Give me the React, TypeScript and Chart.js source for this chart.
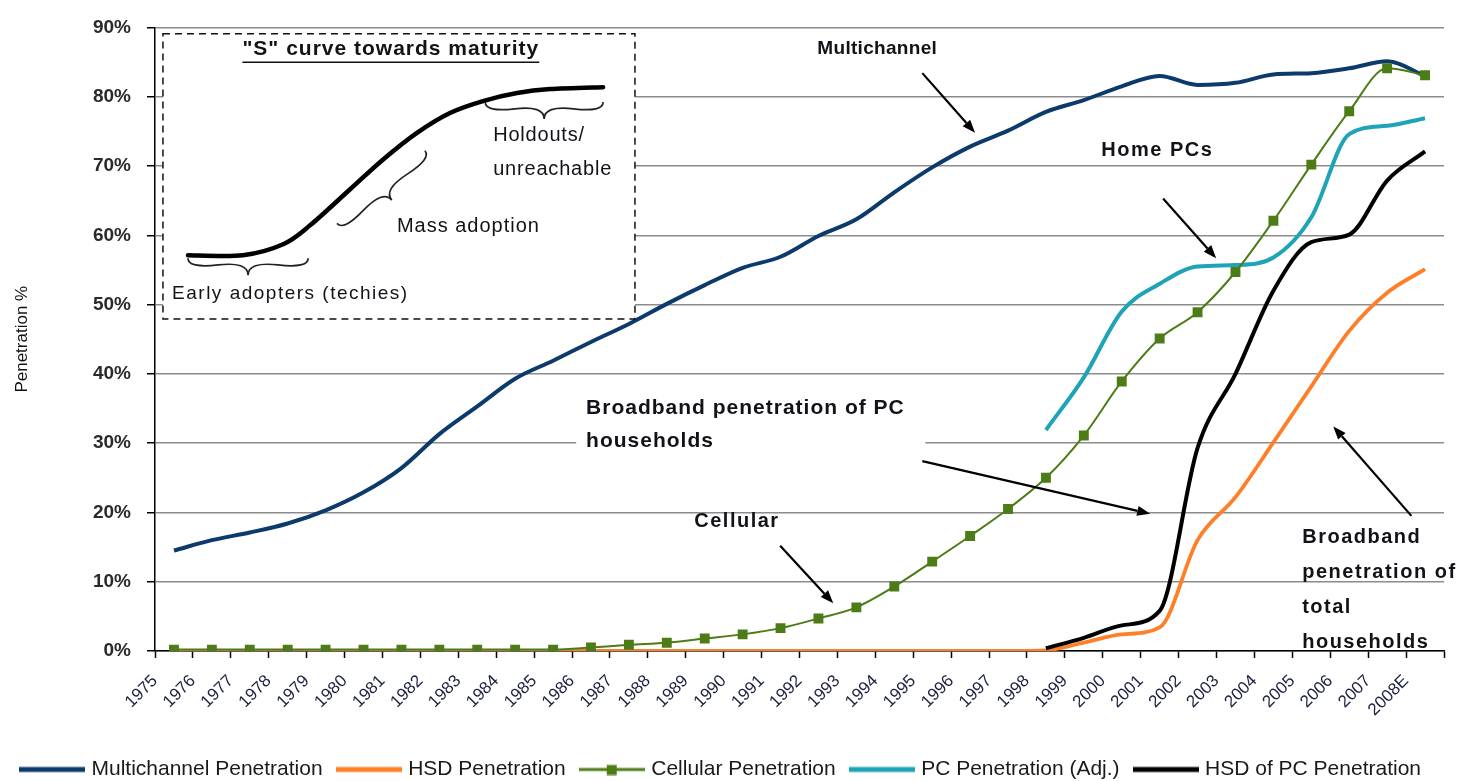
import React, { useEffect, useRef } from 'react';
import { Chart, registerables } from 'chart.js';

Chart.register(...registerables);

// ---------------- data ----------------
const years = [
  '1975', '1976', '1977', '1978', '1979', '1980', '1981', '1982', '1983', '1984',
  '1985', '1986', '1987', '1988', '1989', '1990', '1991', '1992', '1993', '1994',
  '1995', '1996', '1997', '1998', '1999', '2000', '2001', '2002', '2003', '2004',
  '2005', '2006', '2007', '2008E',
];

const multichannel = [
  14.5, 16.0, 17.1, 18.4, 20.3, 22.9, 26.4, 31.3, 35.3, 39.3,
  41.9, 44.6, 47.2, 50.1, 52.8, 55.3, 56.9, 59.9, 62.3, 66.2,
  69.8, 72.8, 75.1, 77.8, 79.5, 81.5, 83.0, 81.7, 82.0, 83.2,
  83.4, 84.1, 85.1, 83.0,
];

const hsd = [
  0, 0, 0, 0, 0, 0, 0, 0, 0, 0,
  0, 0, 0, 0, 0, 0, 0, 0, 0, 0,
  0, 0, 0, 0.1, 1.2, 2.4, 3.4, 16.0, 22.2, 30.1,
  38.2, 46.2, 51.7, 55.1,
];

const cellular = [
  0.2, 0.2, 0.2, 0.2, 0.2, 0.2, 0.2, 0.2, 0.2, 0.2,
  0.2, 0.5, 0.9, 1.2, 1.8, 2.4, 3.3, 4.7, 6.3, 9.3,
  12.9, 16.6, 20.5, 25.0, 31.1, 38.9, 45.1, 48.9, 54.7, 62.1,
  70.2, 77.9, 84.1, 83.1,
];

const pcPenetration = [
  null, null, null, null, null, null, null, null, null, null,
  null, null, null, null, null, null, null, null, null, null,
  null, null, null, 31.9, 39.5, 49.0, 53.0, 55.5, 55.7, 56.8,
  62.6, 74.6, 75.8, 76.9,
];

const hsdOfPc = [
  null, null, null, null, null, null, null, null, null, null,
  null, null, null, null, null, null, null, null, null, null,
  null, null, null, 0.4, 1.9, 3.7, 5.8, 29.3, 40.0, 52.0,
  59.0, 60.1, 67.9, 72.1,
];

const seriesLabels = [
  'Multichannel Penetration',
  'HSD Penetration',
  'Cellular Penetration',
  'PC Penetration (Adj.)',
  'HSD of PC Penetration',
];

const yMin = 0;
const yMax = 90;
const yStep = 10;

// ---------------- styles ----------------
const FONT = '"Liberation Sans", Arial, Helvetica, sans-serif';
const COLORS = {
  multichannel: '#0c3a6b',
  hsd: '#ff7f27',
  cellular: '#4d7c17',
  pc: '#1fa3b6',
  hsdPc: '#000000',
};

// annotation positions in data coordinates [category index, value %]
const NOTES = {
  multichannelText: [18.55, 86.9],
  multichannelArrow: [[19.74, 83.4], [21.13, 74.8]],
  homeText: [25.94, 72.3],
  homeArrow: [[26.09, 65.3], [27.49, 56.7]],
  pcHhLines: ['Broadband penetration of PC', 'households'],
  pcHhAt: [10.87, 35.0],
  pcHhBox: [[10.61, 38.0], [19.82, 28.0]],
  pcHhArrow: [[19.74, 27.4], [25.75, 19.8]],
  cellText: [14.85, 18.66],
  cellArrow: [[15.99, 15.2], [17.39, 6.9]],
  totalLines: ['Broadband', 'penetration of', 'total', 'households'],
  totalAt: [29.76, 16.4],
  totalArrow: [[32.64, 19.5], [30.58, 32.4]],
  insetBox: [[-0.29, 89.1], [12.16, 47.9]],
  insetTitle: [5.72, 86.84],
  insetCurve: [
    [0.37, 57.13], [1.82, 57.13], [2.88, 58.71], [3.59, 61.43], [4.64, 66.6],
    [5.51, 70.91], [6.41, 74.78], [7.28, 77.65], [8.15, 79.37], [9.05, 80.52],
    [9.92, 81.1], [11.32, 81.38],
  ],
  braceEarly: [[0.37, 56.7], [3.54, 56.7]],
  braceMass: [[4.3, 61.72], [6.62, 72.2]],
  braceHold: [[8.21, 79.23], [11.32, 79.23]],
  earlyText: [-0.05, 51.53],
  massText: [5.88, 61.29],
  holdText: [8.42, 74.35],
  holdText2: [8.42, 69.47],
};

function makeIcon(color: string, marker: boolean) {
  const c = document.createElement('canvas');
  c.width = 66;
  c.height = 12;
  const ctx = c.getContext('2d')!;
  ctx.strokeStyle = color;
  ctx.lineWidth = marker ? 3 : 5;
  ctx.beginPath();
  ctx.moveTo(0, 6);
  ctx.lineTo(66, 6);
  ctx.stroke();
  if (marker) {
    ctx.fillStyle = color;
    ctx.fillRect(28, 1.5, 10, 10);
  }
  return c;
}

function arrow(ctx: CanvasRenderingContext2D, x1: number, y1: number, x2: number, y2: number) {
  ctx.save();
  ctx.strokeStyle = '#000';
  ctx.fillStyle = '#000';
  ctx.lineWidth = 2.2;
  const a = Math.atan2(y2 - y1, x2 - x1);
  const hl = 13;
  const hw = 5;
  const bx = x2 - hl * Math.cos(a);
  const by = y2 - hl * Math.sin(a);
  ctx.beginPath();
  ctx.moveTo(x1, y1);
  ctx.lineTo(bx, by);
  ctx.stroke();
  ctx.beginPath();
  ctx.moveTo(x2, y2);
  ctx.lineTo(bx + hw * Math.sin(a), by - hw * Math.cos(a));
  ctx.lineTo(bx - hw * Math.sin(a), by + hw * Math.cos(a));
  ctx.closePath();
  ctx.fill();
  ctx.restore();
}

function brace(ctx: CanvasRenderingContext2D, x1: number, y1: number, x2: number, y2: number, w: number) {
  const q = 0.6;
  let dx = x1 - x2;
  let dy = y1 - y2;
  const len = Math.sqrt(dx * dx + dy * dy);
  dx /= len;
  dy /= len;
  const qx1 = x1 + q * w * dy, qy1 = y1 - q * w * dx;
  const qx2 = x1 - 0.25 * len * dx + (1 - q) * w * dy, qy2 = y1 - 0.25 * len * dy - (1 - q) * w * dx;
  const tx1 = x1 - 0.5 * len * dx + w * dy, ty1 = y1 - 0.5 * len * dy - w * dx;
  const qx3 = x2 + q * w * dy, qy3 = y2 - q * w * dx;
  const qx4 = x1 - 0.75 * len * dx + (1 - q) * w * dy, qy4 = y1 - 0.75 * len * dy - (1 - q) * w * dx;
  ctx.beginPath();
  ctx.moveTo(x1, y1);
  ctx.quadraticCurveTo(qx1, qy1, qx2, qy2);
  ctx.quadraticCurveTo(2 * qx2 - qx1, 2 * qy2 - qy1, tx1, ty1);
  ctx.moveTo(x2, y2);
  ctx.quadraticCurveTo(qx3, qy3, qx4, qy4);
  ctx.quadraticCurveTo(2 * qx4 - qx3, 2 * qy4 - qy3, tx1, ty1);
  ctx.stroke();
}

function text(ctx: CanvasRenderingContext2D, s: string, x: number, y: number, font: string, align: CanvasTextAlign, spacing = '0px') {
  ctx.save();
  ctx.font = font;
  (ctx as any).letterSpacing = spacing;
  ctx.fillStyle = '#111318';
  ctx.textAlign = align;
  ctx.textBaseline = 'middle';
  ctx.fillText(s, x, y);
  ctx.restore();
}

const annotationPlugin = {
  id: 'notes',
  beforeDatasetsDraw(chart: any) {
    const { ctx } = chart;
    const X = (i: number) => chart.scales.x.getPixelForValue(i);
    const Y = (v: number) => chart.scales.y.getPixelForValue(v);
    ctx.save();
    ctx.fillStyle = '#fff';
    const b = NOTES.insetBox;
    ctx.fillRect(X(b[0][0]), Y(b[0][1]), X(b[1][0]) - X(b[0][0]), Y(b[1][1]) - Y(b[0][1]));
    const h = NOTES.pcHhBox;
    ctx.fillRect(X(h[0][0]), Y(h[0][1]), X(h[1][0]) - X(h[0][0]), Y(h[1][1]) - Y(h[0][1]));
    ctx.restore();
  },
  afterDatasetsDraw(chart: any) {
    const { ctx } = chart;
    const X = (i: number) => chart.scales.x.getPixelForValue(i);
    const Y = (v: number) => chart.scales.y.getPixelForValue(v);
    const b19 = `bold 19px ${FONT}`;
    const b20 = `bold 20px ${FONT}`;
    const b21 = `bold 21px ${FONT}`;
    const reg = `19px ${FONT}`;
    const reg20 = `20px ${FONT}`;

    // main annotations
    text(ctx, 'Multichannel', X(NOTES.multichannelText[0]), Y(NOTES.multichannelText[1]), b19, 'center', '0.3px');
    let a = NOTES.multichannelArrow;
    arrow(ctx, X(a[0][0]), Y(a[0][1]), X(a[1][0]), Y(a[1][1]));

    text(ctx, 'Home PCs', X(NOTES.homeText[0]), Y(NOTES.homeText[1]), b20, 'center', '1.5px');
    a = NOTES.homeArrow;
    arrow(ctx, X(a[0][0]), Y(a[0][1]), X(a[1][0]), Y(a[1][1]));

    NOTES.pcHhLines.forEach((s, k) => {
      text(ctx, s, X(NOTES.pcHhAt[0]), Y(NOTES.pcHhAt[1]) + k * 33, b21, 'left', '1px');
    });
    a = NOTES.pcHhArrow;
    arrow(ctx, X(a[0][0]), Y(a[0][1]), X(a[1][0]), Y(a[1][1]));

    text(ctx, 'Cellular', X(NOTES.cellText[0]), Y(NOTES.cellText[1]), b20, 'center', '1.5px');
    a = NOTES.cellArrow;
    arrow(ctx, X(a[0][0]), Y(a[0][1]), X(a[1][0]), Y(a[1][1]));

    NOTES.totalLines.forEach((s, k) => {
      text(ctx, s, X(NOTES.totalAt[0]), Y(NOTES.totalAt[1]) + k * 35, b20, 'left', '1.5px');
    });
    a = NOTES.totalArrow;
    arrow(ctx, X(a[0][0]), Y(a[0][1]), X(a[1][0]), Y(a[1][1]));

    // inset
    const b = NOTES.insetBox;
    ctx.save();
    ctx.strokeStyle = '#111';
    ctx.lineWidth = 1.5;
    ctx.setLineDash([7, 5]);
    ctx.strokeRect(X(b[0][0]), Y(b[0][1]), X(b[1][0]) - X(b[0][0]), Y(b[1][1]) - Y(b[0][1]));
    ctx.restore();

    const tx = X(NOTES.insetTitle[0]);
    const ty = Y(NOTES.insetTitle[1]);
    const title = '"S" curve towards maturity';
    text(ctx, title, tx, ty, b21, 'center', '1px');
    ctx.save();
    ctx.font = b21;
    (ctx as any).letterSpacing = '1px';
    const tw = ctx.measureText(title).width;
    ctx.strokeStyle = '#111';
    ctx.lineWidth = 1.5;
    ctx.beginPath();
    ctx.moveTo(tx - tw / 2, ty + 13);
    ctx.lineTo(tx + tw / 2, ty + 13);
    ctx.stroke();
    ctx.restore();

    // S curve (Catmull-Rom)
    const pts = NOTES.insetCurve.map((p) => [X(p[0]), Y(p[1])]);
    ctx.save();
    ctx.strokeStyle = '#000';
    ctx.lineWidth = 4.5;
    ctx.lineCap = 'round';
    ctx.beginPath();
    ctx.moveTo(pts[0][0], pts[0][1]);
    for (let i = 0; i < pts.length - 1; i++) {
      const p0 = pts[Math.max(0, i - 1)];
      const p1 = pts[i];
      const p2 = pts[i + 1];
      const p3 = pts[Math.min(pts.length - 1, i + 2)];
      ctx.bezierCurveTo(
        p1[0] + (p2[0] - p0[0]) / 6, p1[1] + (p2[1] - p0[1]) / 6,
        p2[0] - (p3[0] - p1[0]) / 6, p2[1] - (p3[1] - p1[1]) / 6,
        p2[0], p2[1],
      );
    }
    ctx.stroke();
    ctx.restore();

    ctx.save();
    ctx.strokeStyle = '#222';
    ctx.lineWidth = 1.7;
    [NOTES.braceEarly, NOTES.braceMass, NOTES.braceHold].forEach((br) => {
      brace(ctx, X(br[0][0]), Y(br[0][1]), X(br[1][0]), Y(br[1][1]), 17);
    });
    ctx.restore();

    text(ctx, 'Early adopters (techies)', X(NOTES.earlyText[0]), Y(NOTES.earlyText[1]), reg, 'left', '1.5px');
    text(ctx, 'Mass adoption', X(NOTES.massText[0]), Y(NOTES.massText[1]), reg20, 'left', '1px');
    text(ctx, 'Holdouts/', X(NOTES.holdText[0]), Y(NOTES.holdText[1]), reg20, 'left', '0.8px');
    text(ctx, 'unreachable', X(NOTES.holdText2[0]), Y(NOTES.holdText2[1]), reg20, 'left', '0.8px');
  },
};

export default function App() {
  const ref = useRef<HTMLCanvasElement>(null);

  useEffect(() => {
    const icons = [
      makeIcon(COLORS.multichannel, false),
      makeIcon(COLORS.hsd, false),
      makeIcon(COLORS.cellular, true),
      makeIcon(COLORS.pc, false),
      makeIcon(COLORS.hsdPc, false),
    ];

    const common = { pointRadius: 0, pointHoverRadius: 0, cubicInterpolationMode: 'monotone' as const, fill: false };

    const chart = new Chart(ref.current!, {
      type: 'line',
      data: {
        labels: years,
        datasets: [
          { ...common, label: seriesLabels[0], data: multichannel, borderColor: COLORS.multichannel, backgroundColor: COLORS.multichannel, borderWidth: 4, order: 1 },
          { ...common, label: seriesLabels[1], data: hsd, borderColor: COLORS.hsd, backgroundColor: COLORS.hsd, borderWidth: 3.8, order: 3 },
          {
            ...common, label: seriesLabels[2], data: cellular, borderColor: COLORS.cellular, backgroundColor: COLORS.cellular,
            borderWidth: 2, pointRadius: 7, pointStyle: 'rect', pointBorderWidth: 0, order: 0,
          },
          { ...common, label: seriesLabels[3], data: pcPenetration, borderColor: COLORS.pc, backgroundColor: COLORS.pc, borderWidth: 4, order: 4 },
          { ...common, label: seriesLabels[4], data: hsdOfPc, borderColor: COLORS.hsdPc, backgroundColor: COLORS.hsdPc, borderWidth: 4, order: 2 },
        ],
      },
      options: {
        responsive: false,
        animation: false,
        devicePixelRatio: 1,
        layout: { padding: { top: 21, right: 16, left: 0, bottom: -9 } },
        plugins: {
          tooltip: { enabled: false },
          legend: {
            position: 'bottom',
            labels: {
              usePointStyle: true,
              pointStyleWidth: 58,
              padding: 17,
              color: '#1a1a1a',
              font: { family: FONT, size: 21 },
              generateLabels: (ch: any) =>
                ch.data.datasets.map((ds: any, i: number) => ({
                  text: ds.label,
                  pointStyle: icons[i],
                  fillStyle: ds.borderColor,
                  strokeStyle: ds.borderColor,
                  lineWidth: 0,
                  hidden: false,
                  datasetIndex: i,
                  fontColor: '#1a1a1a',
                })),
            },
          },
        },
        scales: {
          x: {
            type: 'category',
            offset: true,
            afterFit: (s: any) => { s.height = 91; },
            grid: {
              display: true,
              drawOnChartArea: false,
              drawTicks: true,
              tickLength: 7,
              tickColor: '#000',
              tickWidth: 1.5,
              offset: true,
            },
            border: { display: true, color: '#000', width: 1.5 },
            ticks: {
              autoSkip: false,
              minRotation: 45,
              maxRotation: 45,
              labelOffset: -19,
              padding: 13,
              color: '#1b2040',
              font: { family: FONT, size: 17 },
            },
          },
          y: {
            min: yMin,
            max: yMax,
            afterFit: (s: any) => { s.width = 155; },
            grid: {
              color: '#8c8c8c',
              lineWidth: 1.5,
              drawTicks: true,
              tickLength: 8,
              tickColor: '#000',
              tickWidth: 1.5,
            },
            border: { display: true, color: '#000', width: 1.5 },
            ticks: {
              stepSize: yStep,
              padding: 16,
              color: '#2a2a2a',
              font: { family: FONT, size: 19, weight: 'bold' },
              callback: (v: any) => `${v}%`,
            },
            title: {
              display: true,
              text: 'Penetration %',
              color: '#111',
              font: { family: FONT, size: 17 },
              padding: { top: 12, bottom: 0 },
            },
          },
        },
      },
      plugins: [annotationPlugin],
    } as any);

    return () => chart.destroy();
  }, []);

  return (
    <div style={{ position: 'fixed', left: 0, top: 0, width: 1460, height: 781, background: '#fff' }}>
      <canvas ref={ref} width={1460} height={781} style={{ display: 'block', width: 1460, height: 781 }} />
    </div>
  );
}
